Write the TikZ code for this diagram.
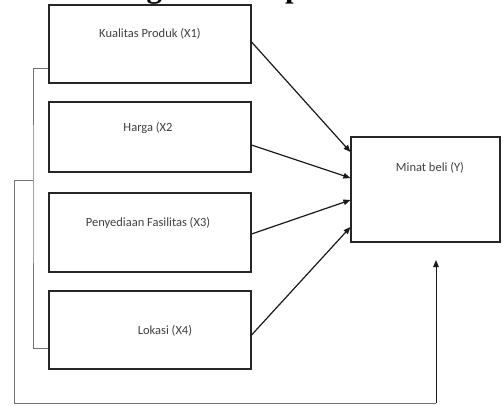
\documentclass[tikz,border=0pt]{standalone}
\usepackage{fontspec}
\setmainfont{Carlito}
\newfontfamily\titlefont{Liberation Serif}
\usetikzlibrary{arrows.meta,calc}
\begin{document}
\begin{tikzpicture}[x=1pt,y=-1pt,
  varbox/.style={draw=black!85,line width=1.1pt,rectangle,inner sep=0pt,minimum width=202pt},
  lbl/.style={inner sep=0pt,text=black!75,font=\fontsize{12.5}{13}\selectfont},
  arr/.style={draw=black!90,line width=1.2pt,-{Triangle[length=7pt,width=5.5pt]}},
  brk/.style={draw=black!55,line width=1pt}]
\useasboundingbox (0,0) rectangle (503,405);
\clip (0,0) rectangle (503,405);
\fill[white] (0,0) rectangle (503,405);
% title (cut at the top)
\node[anchor=south west,inner sep=0pt,font=\titlefont\bfseries\fontsize{31}{31}\selectfont] (title) at (62,5) {Kerangka Konseptual};
% boxes
\node[varbox,minimum height=78pt] (b1) at (150,44) {};
\node[varbox,minimum height=70pt] (b2) at (150,137) {};
\node[varbox,minimum height=79pt] (b3) at (150,232.5) {};
\node[varbox,minimum height=78pt] (b4) at (150,330) {};
\node[draw=black!85,line width=1.1pt,rectangle,inner sep=0pt,minimum width=149pt,minimum height=105pt] (y) at (425.5,189.5) {};
% labels
\node[lbl] (t1) at (150,34) {Kualitas Produk (X1)};
\node[lbl] (t2) at (148,128) {Harga (X2};
\node[lbl] (t3) at (148,223) {Penyediaan Fasilitas (X3)};
\node[lbl] (t4) at (165,331) {Lokasi (X4)};
\node[lbl] (ty) at (430,168) {Minat beli (Y)};
% arrows to Y
\draw[arr] ([yshift=2pt]b1.east) -- ([yshift=37.5pt]y.west);
\draw[arr] ([yshift=-8pt]b2.east) -- ([yshift=11.5pt]y.west);
\draw[arr] ([yshift=-1.5pt]b3.east) -- ([yshift=-10.5pt]y.west);
\draw[arr] ([yshift=-5pt]b4.east) -- ([yshift=-37.5pt]y.west);
% brackets
\coordinate (j) at (33,180);
\coordinate (tip) at (436,260);
\draw[brk] ([yshift=-24pt]b1.west) -| (j) |- ([yshift=-18pt]b4.west);
\draw[brk] (j) -- (14,180) -- (14,403) -- (436,403);
\draw[arr,line width=1pt] (436,403) -- (tip);
\end{tikzpicture}
\end{document}
